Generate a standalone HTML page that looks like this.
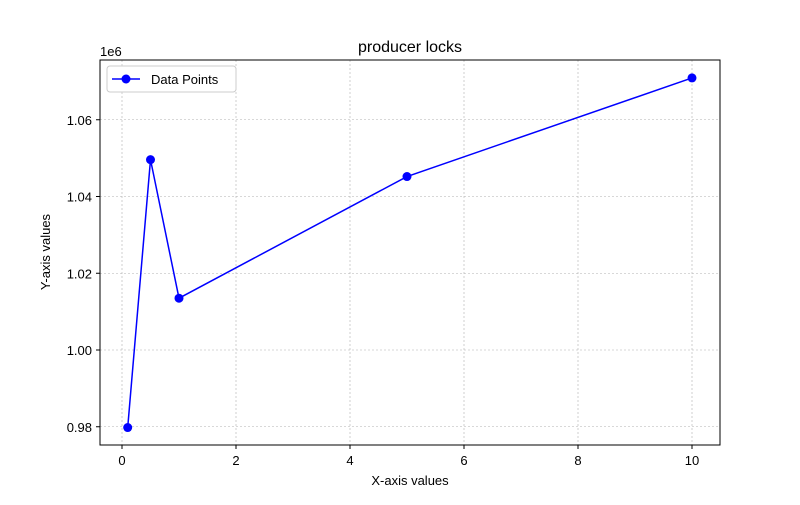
<!DOCTYPE html>
<html><head><meta charset="utf-8"><style>
body{margin:0;background:#fff;}
svg text{font-family:"Liberation Sans","DejaVu Sans",sans-serif;fill:#000;}
</style></head><body>
<svg id="chart" width="800" height="500" xmlns="http://www.w3.org/2000/svg">
<rect width="800" height="500" fill="#fff"/>
<g id="grid"></g>
<g id="ticks"></g>
<g id="series"></g>
<rect x="100" y="60" width="620" height="385" fill="none" stroke="#000" stroke-width="1"/>
<text x="410" y="52" font-size="16" text-anchor="middle">producer locks</text>
<text x="410" y="485" font-size="13" text-anchor="middle">X-axis values</text>
<text transform="translate(50,252) rotate(-90)" font-size="13" text-anchor="middle">Y-axis values</text>
<text x="100" y="56" font-size="13">1e6</text>
<g>
<rect x="107" y="66" width="129" height="26" rx="3" fill="#fff" stroke="#ccc"/>
<line x1="112" y1="79" x2="140" y2="79" stroke="#0000ff" stroke-width="1.5"/>
<circle cx="126" cy="79" r="4.5" fill="#0000ff"/>
<text x="151" y="84" font-size="13">Data Points</text>
</g>
</svg>
<script>
const xValues=[0.1,0.5,1,5,10];
const yValues=[0.9798,1.0496,1.0135,1.0452,1.0709];
const xTicks=[0,2,4,6,8,10];
const yTicks=[0.98,1.00,1.02,1.04,1.06];
const yTickLabels=["0.98","1.00","1.02","1.04","1.06"];
const NS="http://www.w3.org/2000/svg";
function xs(v){return 122+v*57;}
function ys(v){return 350-(v-1.0)*3837.5;}
function mk(tag,attrs,parent){const e=document.createElementNS(NS,tag);for(const k in attrs)e.setAttribute(k,attrs[k]);parent.appendChild(e);return e;}
const grid=document.getElementById('grid'),ticks=document.getElementById('ticks'),series=document.getElementById('series');
xTicks.forEach(t=>{const x=xs(t);
 const g=mk('line',{x1:x,x2:x,y1:60,y2:445,stroke:'#b0b0b0','stroke-width':0.6,'stroke-dasharray':'2,2'},grid);
 
 
 const l=mk('line',{x1:x,x2:x,y1:445,y2:449,stroke:'#000'},ticks);
 
 
 const tx=mk('text',{x:x,y:465,'font-size':13,'text-anchor':'middle'},ticks);tx.textContent=t;
 
 
});
yTicks.forEach((t,i)=>{const y=ys(t);
 const g=mk('line',{x1:100,x2:720,y1:y,y2:y,stroke:'#b0b0b0','stroke-width':0.6,'stroke-dasharray':'2,2'},grid);
 
 
 const l=mk('line',{x1:96,x2:100,y1:y,y2:y,stroke:'#000'},ticks);
 
 
 const tx=mk('text',{x:92,y:y+5,'font-size':13,'text-anchor':'end'},ticks);tx.textContent=yTickLabels[i];
 
 
});
const pts=xValues.map((v,i)=>xs(v)+','+ys(yValues[i])).join(' ');
const pl=mk('polyline',{points:pts,fill:'none',stroke:'#0000ff','stroke-width':1.5},series);


xValues.forEach((v,i)=>{const c=mk('circle',{cx:xs(v),cy:ys(yValues[i]),r:4.5,fill:'#0000ff'},series);
 
 
});
</script>
</body></html>
